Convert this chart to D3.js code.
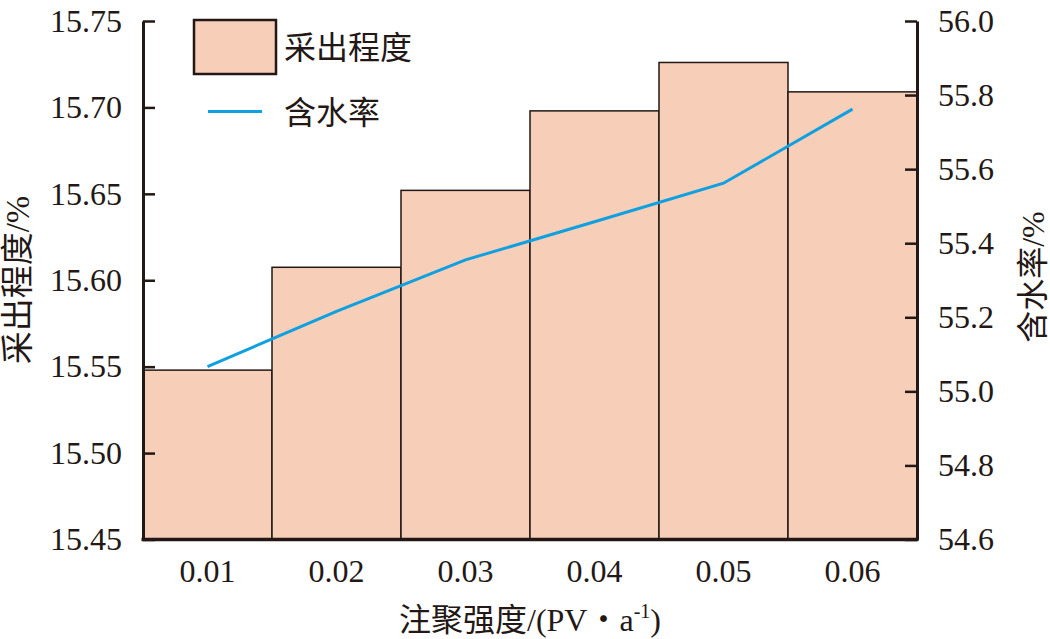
<!DOCTYPE html>
<html><head><meta charset="utf-8">
<script src="https://cdn.jsdelivr.net/npm/d3@7"></script>
<style>body{margin:0;background:#fff}svg{display:block}</style>
</head><body>
<script>
const categories = ["0.01","0.02","0.03","0.04","0.05","0.06"];
const recovery = [15.548, 15.6075, 15.652, 15.698, 15.726, 15.709];   // 采出程度/%
const waterCut = [55.067, 55.216, 55.355, 55.458, 55.562, 55.762];     // 含水率/%
const leftTicks = [15.45, 15.50, 15.55, 15.60, 15.65, 15.70, 15.75];
const rightTicks = [54.6, 54.8, 55.0, 55.2, 55.4, 55.6, 55.8, 56.0];

const W = 1050, H = 639;
const L = 143, R = 917, T = 21, B = 539.5;
const ink = "#231815";
const font = "'Liberation Serif','Noto Sans CJK SC',serif";

const svg = d3.select("body").append("svg").attr("width", W).attr("height", H);
const x = d3.scaleBand().domain(categories).range([L, R]).padding(0);
const yL = d3.scaleLinear().domain([15.45, 15.75]).range([B, T]);
const yR = d3.scaleLinear().domain([54.6, 56.0]).range([B, T]);

// bars
svg.append("g").selectAll("rect").data(categories).join("rect")
  .attr("x", d => x(d)).attr("width", x.bandwidth())
  .attr("y", (d,i) => yL(recovery[i])).attr("height", (d,i) => B - yL(recovery[i]))
  .attr("fill", "#F7CEB8").attr("stroke", ink).attr("stroke-width", 1.5);

// line
const line = d3.line().x((d,i) => x(categories[i]) + x.bandwidth()/2).y(d => yR(d));
svg.append("path").datum(waterCut).attr("d", line)
  .attr("fill", "none").attr("stroke", "#0EA0E0").attr("stroke-width", 3);

// left axis
const gl = svg.append("g").attr("transform", `translate(${L},0)`)
  .call(d3.axisLeft(yL).tickValues(leftTicks).tickFormat(d3.format(".2f")).tickSizeInner(-12).tickSizeOuter(0).tickPadding(21));
gl.select(".domain").attr("stroke", ink).attr("stroke-width", 3);
gl.selectAll(".tick line").attr("stroke", ink).attr("stroke-width", 2.5);
gl.selectAll(".tick text").attr("font-family", font).attr("font-size", 32).attr("fill", ink);

// right axis
const gr = svg.append("g").attr("transform", `translate(${R},0)`)
  .call(d3.axisRight(yR).tickValues(rightTicks).tickFormat(d3.format(".1f")).tickSizeInner(-12).tickSizeOuter(0).tickPadding(21));
gr.select(".domain").attr("stroke", ink).attr("stroke-width", 3);
gr.selectAll(".tick line").attr("stroke", ink).attr("stroke-width", 2.5);
gr.selectAll(".tick text").attr("font-family", font).attr("font-size", 32).attr("fill", ink);

// bottom axis
const gb = svg.append("g").attr("transform", `translate(0,${B})`)
  .call(d3.axisBottom(x).tickSize(0).tickPadding(20));
gb.select(".domain").attr("stroke", ink).attr("stroke-width", 3.5).attr("d", `M${L-1.5},0H${R+1.5}`);
gb.selectAll(".tick text").attr("font-family", font).attr("font-size", 32).attr("fill", ink);

// axis titles
svg.append("text").attr("transform", `translate(29,280) rotate(-90)`)
  .attr("text-anchor", "middle").attr("font-family", font).attr("font-size", 33).attr("fill", ink)
  .text("采出程度/%");
svg.append("text").attr("transform", `translate(1044,277) rotate(-90)`)
  .attr("text-anchor", "middle").attr("font-family", font).attr("font-size", 32).attr("fill", ink)
  .text("含水率/%");
const xt = svg.append("text").attr("x", 530).attr("y", 631).attr("text-anchor", "middle")
  .attr("font-family", font).attr("font-size", 32).attr("fill", ink);
xt.append("tspan").text("注聚强度/(PV・a");
xt.append("tspan").attr("font-size", 20).attr("dy", -13).text("-1");
xt.append("tspan").attr("dy", 13).text(")");

// legend
svg.append("rect").attr("x", 194).attr("y", 20).attr("width", 82).attr("height", 54)
  .attr("fill", "#F7CEB8").attr("stroke", ink).attr("stroke-width", 2.5);
svg.append("text").attr("x", 284).attr("y", 59).attr("font-family", font).attr("font-size", 32).attr("fill", ink).text("采出程度");
svg.append("line").attr("x1", 208).attr("x2", 262).attr("y1", 111.5).attr("y2", 111.5)
  .attr("stroke", "#0EA0E0").attr("stroke-width", 3);
svg.append("text").attr("x", 284).attr("y", 124).attr("font-family", font).attr("font-size", 32).attr("fill", ink).text("含水率");
</script>
</body></html>
